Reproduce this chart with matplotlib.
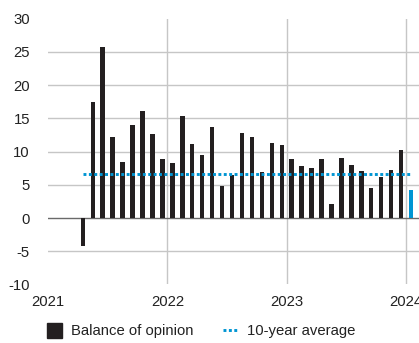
import matplotlib
matplotlib.use("Agg")
import matplotlib.pyplot as plt
from matplotlib.lines import Line2D

plt.rcParams['font.family'] = ['Liberation Sans', 'DejaVu Sans']

months = ["2021-04", "2021-05", "2021-06", "2021-07", "2021-08", "2021-09", "2021-10",
          "2021-11", "2021-12",
          "2022-01", "2022-02", "2022-03", "2022-04", "2022-05", "2022-06", "2022-07",
          "2022-08", "2022-09", "2022-10", "2022-11", "2022-12",
          "2023-01", "2023-02", "2023-03", "2023-04", "2023-05", "2023-06", "2023-07",
          "2023-08", "2023-09", "2023-10", "2023-11", "2023-12",
          "2024-01"]
balance = [-4.2, 17.5, 25.8, 12.2, 8.4, 14.0, 16.1, 12.6, 8.9,
           8.3, 15.4, 11.1, 9.5, 13.7, 4.8, 6.5, 12.8, 12.2, 6.9, 11.3, 11.0,
           8.9, 7.8, 7.6, 8.9, 2.1, 9.0, 8.0, 7.1, 4.5, 6.2, 7.2, 10.2,
           4.2]
ten_year_avg = 6.7
year_ticks = [2021, 2022, 2023, 2024]
y_ticks = [-10, -5, 0, 5, 10, 15, 20, 25, 30]

BLACK = '#231f20'
BLUE = '#0095d3'
GRID = '#c6c6c6'
FS = 10.7

def month_pos(s):
    y, m = s.split('-')
    return (int(y) - year_ticks[0]) * 12 + (int(m) - 1) + 0.5

xs = [month_pos(m) for m in months]
colors = [BLACK] * (len(months) - 1) + [BLUE]

fig = plt.figure(figsize=(4.19, 3.43), dpi=100)
ax = fig.add_axes([48 / 419, 0.1708, 1 - 48 / 419, 0.9452 - 0.1708])

ax.set_xlim(0, 37.3)
ax.set_ylim(-10, 30)

# grid lines
for v in [-5, 5, 10, 15, 20, 25]:
    ax.axhline(v, color=GRID, lw=1.0, zorder=0)
for yr in year_ticks[1:]:
    ax.axvline((yr - year_ticks[0]) * 12, color=GRID, lw=1.0, zorder=0)
ax.axhline(0, color='#6a6a6a', lw=1.0, zorder=1)

ax.bar(xs, balance, width=0.45, color=colors, zorder=2)
ax.plot([xs[0], xs[-1]], [ten_year_avg, ten_year_avg], color=BLUE, lw=2.1,
        linestyle=(0, (1, 0.85)), dash_capstyle='butt', zorder=3)

for s in ax.spines.values():
    s.set_visible(False)
ax.set_xticks([(yr - year_ticks[0]) * 12 for yr in year_ticks])
ax.set_xticklabels([str(y) for y in year_ticks], fontsize=FS, color='#222222')
ax.set_yticks(y_ticks)
ax.set_yticklabels([str(v) for v in y_ticks], fontsize=FS, color='#222222')
ax.tick_params(axis='x', length=0, pad=7.6)
ax.tick_params(axis='y', length=0, pad=13)

handles = [
    Line2D([], [], marker='s', ms=10.8, color=BLACK, linestyle='none'),
    Line2D([], [], color=BLUE, lw=2.1, linestyle=(0, (1, 0.85))),
]
fig.legend(handles, ["Balance of opinion", "10-year average"], loc='center left',
           bbox_to_anchor=(47 / 419, 12 / 343), ncol=2, frameon=False, fontsize=FS,
           borderaxespad=0, borderpad=0, handlelength=1.0, handletextpad=0.6,
           columnspacing=2.0, labelcolor='#222222')

fig.savefig('out.png', dpi=100)
